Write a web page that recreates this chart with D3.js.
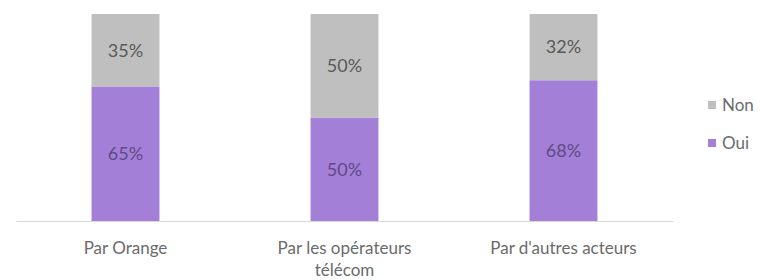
<!DOCTYPE html>
<html><head><meta charset="utf-8">
<script src="https://cdn.jsdelivr.net/npm/d3@7"></script>
<style>body{margin:0;background:#fff}svg{display:block}</style>
</head><body>
<svg id="c" width="760" height="280"></svg>
<script>
const categories = ["Par Orange", "Par les opérateurs télécom", "Par d'autres acteurs"];
const categoryLines = [["Par Orange"], ["Par les opérateurs", "télécom"], ["Par d'autres acteurs"]];
const oui = [65, 50, 68];
const non = [35, 50, 32];
const seriesNames = ["Oui", "Non"];

const svg = d3.select("#c");
const font = "Lato, 'Open Sans', sans-serif";
const x = d3.scaleBand().domain(categories).range([16, 673]).paddingInner(0.69).paddingOuter(0.345);
const y = d3.scaleLinear().domain([0, 100]).range([221, 14]);
const color = {Oui: "#a47fd8", Non: "#bfbfbf"};
const textColor = {Oui: "#5e4b85", Non: "#595959"};

const data = categories.map((c, i) => ({cat: c, Oui: oui[i], Non: non[i]}));
const stack = d3.stack().keys(seriesNames)(data);

const g = svg.append("g");
stack.forEach(layer => {
  const key = layer.key;
  g.selectAll(null).data(layer).enter().append("rect")
    .attr("x", d => x(d.data.cat))
    .attr("width", x.bandwidth())
    .attr("y", d => y(d[1]))
    .attr("height", d => y(d[0]) - y(d[1]))
    .attr("fill", color[key]);
  g.selectAll(null).data(layer).enter().append("text")
    .attr("x", d => x(d.data.cat) + x.bandwidth() / 2)
    .attr("y", d => (y(d[0]) + y(d[1])) / 2)
    .attr("dy", "0.35em")
    .attr("text-anchor", "middle")
    .attr("font-family", font).attr("font-size", 18)
    .attr("fill", textColor[key])
    .text(d => (d[1] - d[0]) + "%");
});

// axis
const axis = d3.axisBottom(x).tickSize(0).tickFormat("");
const ax = svg.append("g").attr("transform", "translate(0,221)").call(axis);
ax.select(".domain").attr("stroke", "#d9d9d9").attr("stroke-width", 1);

categories.forEach((c, i) => {
  const t = svg.append("text")
    .attr("x", x(c) + x.bandwidth() / 2)
    .attr("y", 254)
    .attr("text-anchor", "middle")
    .attr("font-family", font).attr("font-size", 17)
    .attr("fill", "#6b6b6b");
  categoryLines[i].forEach((line, j) => {
    t.append("tspan").attr("x", x(c) + x.bandwidth() / 2).attr("dy", j === 0 ? 0 : 22).text(line);
  });
});

// legend
const legendOrder = ["Non", "Oui"];
const leg = svg.append("g");
legendOrder.forEach((k, i) => {
  const ly = 105 + i * 38;
  leg.append("rect").attr("x", 708).attr("y", ly - 4).attr("width", 8).attr("height", 8).attr("fill", color[k]);
  leg.append("text").attr("x", 722).attr("y", ly).attr("dy", "0.35em")
    .attr("font-family", font).attr("font-size", 17).attr("fill", "#6b6b6b").text(k);
});
</script>
</body></html>
